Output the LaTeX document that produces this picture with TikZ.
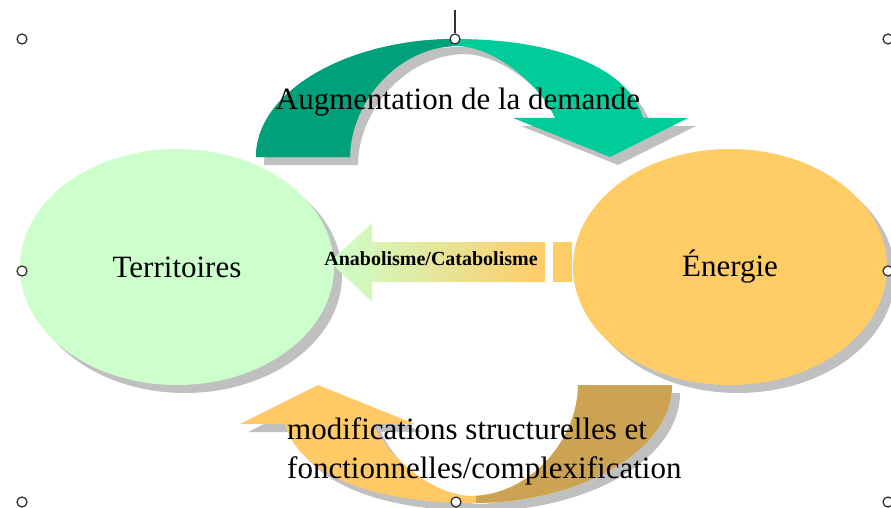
\documentclass[tikz,border=0pt]{standalone}
\usepackage{fontspec}
\setmainfont{Liberation Serif}
\usetikzlibrary{shapes.geometric,shadows}
\definecolor{terrc}{HTML}{CCFFCC}
\definecolor{energc}{HTML}{FFCC66}
\definecolor{darkgreen}{HTML}{00A07A}
\definecolor{lightgreen}{HTML}{00CC99}
\definecolor{darkgold}{HTML}{CCA352}
\definecolor{lightorange}{HTML}{FFC966}
\definecolor{shadowc}{HTML}{C0C0C0}
\tikzset{
  blob/.style={ellipse, minimum width=314pt, minimum height=236pt, inner sep=0pt,
    font=\fontsize{31}{37}\selectfont,
    drop shadow={shadow xshift=8pt, shadow yshift=-8pt, fill=shadowc, opacity=1}},
  handle/.style={circle, draw=black!80, line width=1.3pt, fill=white, minimum size=10pt, inner sep=0pt},
  bigtext/.style={font=\fontsize{31}{39}\selectfont, inner sep=0pt},
  smalltext/.style={font=\bfseries\fontsize{20}{24}\selectfont, inner sep=0pt},
}
\newcommand\myarcpath{(256,157) .. controls (256,90) and (350,39) .. (455,39) .. controls (560,39) and (630,70) .. (643,118) -- (688,118) -- (610,157) -- (513,118) -- (555,118) .. controls (542,88) and (497,46) .. (455,46) .. controls (395,48) and (350,105) .. (350,157) -- cycle}
\begin{document}
\begin{tikzpicture}[x=1pt,y=-1pt]
\useasboundingbox (0,0) rectangle (891,508);
% ellipses
\node[blob, fill=terrc] (terr) at (177,267) {Territoires};
\node[blob, fill=energc] (ener) at (730,267) {Énergie};
% top curved arrow
\begin{scope}[shift={(8,8)}]
  \fill[shadowc] \myarcpath;
\end{scope}
\begin{scope}
  \fill[lightgreen] \myarcpath;
  \clip (0,0) rectangle (452,200);
  \fill[darkgreen] \myarcpath;
\end{scope}
% bottom curved arrow
\begin{scope}[shift={(8,8)}, rotate around={180:(464,271)}]
  \fill[shadowc] \myarcpath;
\end{scope}
\begin{scope}[rotate around={180:(464,271)}]
  \fill[lightorange] \myarcpath;
  \clip (0,0) rectangle (452,200);
  \fill[darkgold] \myarcpath;
\end{scope}
% middle arrow
\shade[left color=terrc, right color=energc] (330,262) -- (372,223) -- (372,242) -- (545,242) -- (545,282) -- (372,282) -- (372,302) -- cycle;
\fill[energc] (553,242) rectangle (572,282);
% texts
\node[bigtext, anchor=base] (aug) at (458,110) {Augmentation de la demande};
\node[smalltext, anchor=base] (ana) at (431,265) {Anabolisme/Catabolisme};
\node[bigtext, align=left, anchor=north west] (modif) at (287,417) {modifications structurelles et\\fonctionnelles/complexification};
% selection handles
\node[handle] (h1) at (22,39) {};
\node[handle] (h2) at (455,39) {};
\node[handle] (h3) at (888,39) {};
\node[handle] (h4) at (22,271) {};
\node[handle] (h5) at (888,271) {};
\node[handle] (h6) at (22,502) {};
\node[handle] (h7) at (456,502) {};
\node[handle] (h8) at (888,502) {};
\coordinate (rot) at (455,10);
\draw[line width=1.3pt, black!80] (rot) -- (h2.north);
\end{tikzpicture}
\end{document}
